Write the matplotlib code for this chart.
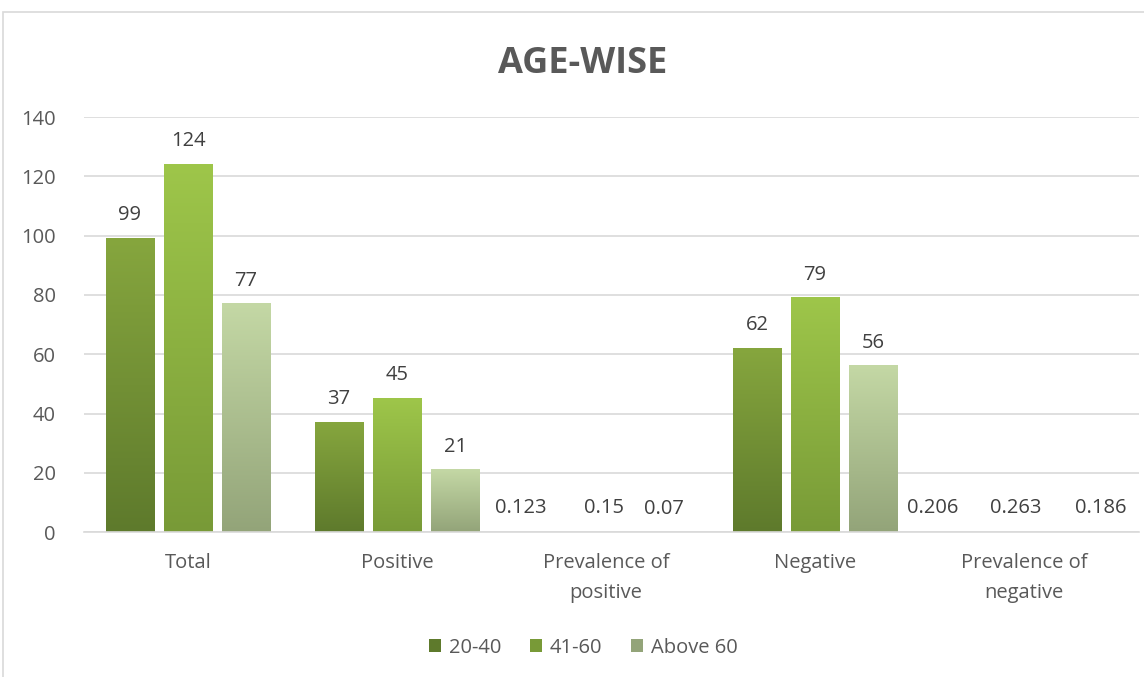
import matplotlib.pyplot as plt
import numpy as np
from matplotlib.colors import LinearSegmentedColormap
from matplotlib.patches import Rectangle

plt.rcParams['font.family'] = ['Open Sans', 'DejaVu Sans']

categories = ['Total', 'Positive', 'Prevalence of\npositive', 'Negative', 'Prevalence of\nnegative']
series_names = ['20-40', '41-60', 'Above 60']
age_20_40 = [99, 37, 0.123, 62, 0.206]
age_41_60 = [124, 45, 0.15, 79, 0.263]
above_60 = [77, 21, 0.07, 56, 0.186]
labels_20_40 = ['99', '37', '0.123', '62', '0.206']
labels_41_60 = ['124', '45', '0.15', '79', '0.263']
labels_above_60 = ['77', '21', '0.07', '56', '0.186']

# (top colour, bottom colour) for each series gradient
gradients = [('#86a63e', '#5e7a2c'), ('#9ec64a', '#789a37'), ('#c4d8a5', '#93a479')]
# small sideways nudges Excel applied to crowded labels
label_shift = {(0, 2): -0.13, (1, 2): -0.01, (0, 4): -0.16, (1, 4): -0.04, (2, 4): 0.09}

fig = plt.figure(figsize=(11.44, 6.77), dpi=100)
ax = fig.add_axes([0.073, 0.214, 0.9226, 0.613])

x = np.arange(len(categories))
width = 0.23
step = 0.278
all_vals = [age_20_40, age_41_60, above_60]
all_labels = [labels_20_40, labels_41_60, labels_above_60]
grad = np.linspace(0, 1, 256).reshape(-1, 1)

for i, (vals, labs) in enumerate(zip(all_vals, all_labels)):
    top, bottom = gradients[i]
    cmap = LinearSegmentedColormap.from_list('g%d' % i, [bottom, top])
    xs = x + (i - 1) * step
    bars = ax.bar(xs, vals, width, color=top, label=series_names[i], zorder=2)
    for b in bars:
        b.set_facecolor('none')
        x0, y0 = b.get_x(), b.get_y()
        w, h = b.get_width(), b.get_height()
        if h > 0.5:
            ax.imshow(grad, cmap=cmap, origin='lower', aspect='auto',
                      extent=[x0, x0 + w, y0, y0 + h], zorder=2)
    for j, (xi, v, t) in enumerate(zip(xs, vals, labs)):
        dx = label_shift.get((i, j), 0)
        ax.text(xi + dx, v + 4.5, t, ha='center', va='bottom', fontsize=14.5, color='#404040')

ax.set_xlim(-0.5, len(categories) - 0.45)
ax.set_ylim(0, 140)
ax.set_yticks(range(0, 141, 20))
ax.set_xticks(x)
ax.set_xticklabels(categories, linespacing=1.65)
ax.tick_params(axis='both', length=0, labelsize=14.5, labelcolor='#595959')
ax.tick_params(axis='x', pad=15)
ax.tick_params(axis='y', pad=20)
ax.grid(axis='y', color='#d9d9d9', linewidth=1.2, zorder=0)
ax.set_axisbelow(True)
for s in ['top', 'right', 'left']:
    ax.spines[s].set_visible(False)
ax.spines['bottom'].set_color('#d9d9d9')
ax.spines['bottom'].set_linewidth(1.2)

fig.text(0.509, 0.906, 'AGE-WISE', ha='center', va='center', fontsize=26,
         fontweight='bold', color='#595959')

handles = []
for i, name in enumerate(series_names):
    handles.append(Rectangle((0, 0), 1, 1, facecolor=gradients[i][1], edgecolor='none'))
fig.legend(handles, series_names, loc='center', bbox_to_anchor=(0.51, 0.043), ncol=3,
           frameon=False, fontsize=14.5, labelcolor='#595959', handlelength=0.6,
           handleheight=0.6, handletextpad=0.4, columnspacing=1.4)

# outer chart border
fig.add_artist(Rectangle((0.003, -0.01), 1.1, 0.992, transform=fig.transFigure,
                         fill=False, edgecolor='#d9d9d9', linewidth=1.2))

fig.savefig('out.png', dpi=100)
